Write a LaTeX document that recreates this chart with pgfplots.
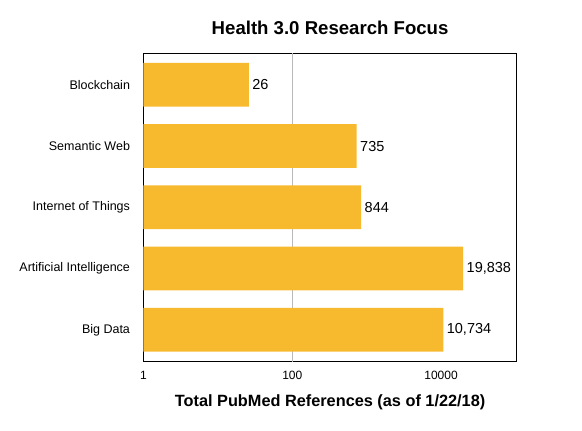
\documentclass[border=0pt]{standalone}
\usepackage{fontspec}
\setmainfont{Liberation Sans}
\usepackage{pgfplots}
\usepackage{pgfplotstable}
\pgfplotsset{compat=1.18}
\definecolor{barc}{RGB}{247,185,45}

% pubmed counts, top bar = 4
\pgfplotstableread{
pos val lab
4 26 26
3 735 735
2 844 844
1 19838 19,838
0 10734 10,734
}\refs

\begin{document}
\begin{tikzpicture}
\begin{axis}[
  scale only axis, width=373.2pt, height=308.7pt,
  xmode=log, xmin=1, xmax=1.04e5,
  ymin=-0.52, ymax=4.52,
  xbar, bar width=43.7pt,
  xtick={1,100,10000}, xticklabels={1,100,10000},
  minor xtick={},
  extra x ticks={100}, extra x tick labels={},
  extra x tick style={grid=major, major grid style={gray!55, line width=0.6pt}},
  ytick={0,1,2,3,4},
  yticklabels={Big Data, Artificial Intelligence, Internet of Things, Semantic Web, Blockchain},
  major tick length=0pt, minor tick length=0pt,
  axis line style={line width=0.9pt},
  yticklabel style={font=\fontsize{12.5}{15}\selectfont, xshift=-10pt},
  xticklabel style={font=\fontsize{12}{14}\selectfont, yshift=-6pt},
  title={Health 3.0 Research Focus},
  title style={font=\bfseries\fontsize{18.6}{22}\selectfont, at={(0.5,1)}, anchor=center, yshift=19.5pt},
  xlabel={Total PubMed References (as of 1/22/18)},
  xlabel style={font=\bfseries\fontsize{16.3}{19}\selectfont, at={(0.5,0)}, anchor=center, yshift=-41pt},
  nodes near coords, point meta=explicit symbolic,
  nodes near coords style={font=\fontsize{14.5}{17}\selectfont, anchor=west, xshift=0pt, text=black},
]
\addplot[draw=none, fill=barc] table[x=val, y=pos, meta=lab] {\refs};
\end{axis}
\path (current axis.south west) ++(-143.5pt,-69.3pt);
\path (current axis.north east) ++(65.3pt,53pt);
\end{tikzpicture}
\end{document}
